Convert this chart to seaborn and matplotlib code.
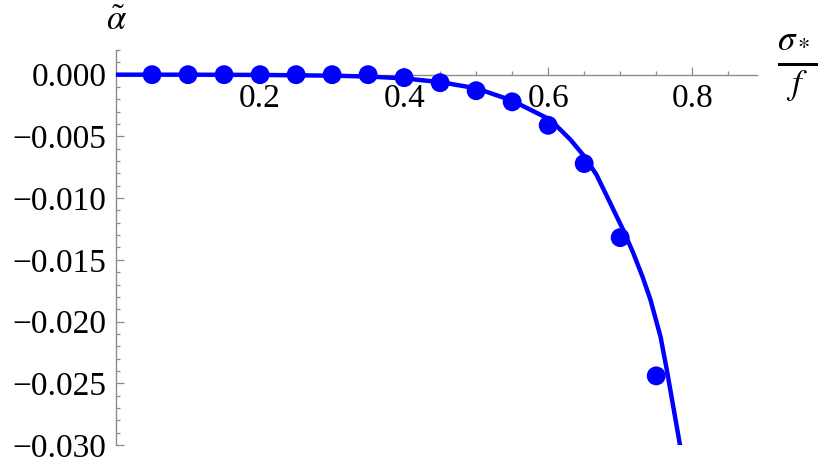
import matplotlib
matplotlib.use("Agg")
import matplotlib.pyplot as plt
import seaborn as sns
from matplotlib.ticker import MultipleLocator, FixedLocator

# Data
dots_x = [0.05, 0.10, 0.15, 0.20, 0.25, 0.30, 0.35, 0.40, 0.45, 0.50, 0.55, 0.60, 0.65, 0.70, 0.75]
dots_y = [0.0, 0.0, 0.0, 0.0, 0.0, 0.0, 0.0, -0.00024, -0.00065, -0.0013, -0.0022,
          -0.0041, -0.0072, -0.0132, -0.0244]

curve_x = [0.0, 0.1, 0.2, 0.3, 0.35, 0.4, 0.45, 0.5, 0.55, 0.603, 0.631, 0.65, 0.667, 0.682,
           0.704, 0.718, 0.731, 0.742, 0.756, 0.765, 0.774, 0.783, 0.786]
curve_y = [0.0, 0.0, -0.00002, -0.00008, -0.00015, -0.0003, -0.0006, -0.0011, -0.0021,
           -0.00365, -0.00527, -0.0066, -0.0081, -0.0099, -0.01256, -0.01443, -0.01637,
           -0.01823, -0.02123, -0.0240, -0.0270, -0.0300, -0.0311]

y_ticks = [0.0, -0.005, -0.010, -0.015, -0.020, -0.025, -0.030]
y_labels = ["0.000", "\u22120.005", "\u22120.010", "\u22120.015", "\u22120.020", "\u22120.025", "\u22120.030"]
x_ticks = [0.2, 0.4, 0.6, 0.8]
x_labels = ["0.2", "0.4", "0.6", "0.8"]

sns.set_style("white")
plt.rcParams["font.family"] = ["Liberation Serif", "DejaVu Serif"]
plt.rcParams["mathtext.fontset"] = "stix"

blue = "#0000ff"
axis_grey = "#8c8c8c"

fig = plt.figure(figsize=(8.3, 4.69), dpi=100)
ax = fig.add_axes([0.1398, 0.0512, 0.7723, 0.8422])

sns.lineplot(x=curve_x, y=curve_y, ax=ax, color=blue, linewidth=3.2, sort=False)
sns.scatterplot(x=dots_x, y=dots_y, ax=ax, color=blue, s=185, edgecolor="none",
                zorder=3, clip_on=False)

ax.set_xlim(0, 0.89)
ax.set_ylim(-0.030, 0.002)

# Mathematica-style axes crossing at the origin
for side in ["top", "right"]:
    ax.spines[side].set_visible(False)
ax.spines["bottom"].set_position(("data", 0))
ax.spines["left"].set_position(("data", 0))
for side in ["bottom", "left"]:
    ax.spines[side].set_color(axis_grey)
    ax.spines[side].set_linewidth(1.0)
    ax.spines[side].set_zorder(0.5)

ax.xaxis.set_major_locator(FixedLocator(x_ticks))
ax.set_xticklabels(x_labels)
ax.xaxis.set_minor_locator(MultipleLocator(0.05))
ax.yaxis.set_major_locator(FixedLocator(y_ticks))
ax.set_yticklabels(y_labels)
ax.yaxis.set_minor_locator(MultipleLocator(0.001))

ax.tick_params(which="both", direction="in", color=axis_grey, width=0.9,
               bottom=True, left=True, top=False, right=False, labelcolor="black")
ax.tick_params(which="major", length=6, labelsize=24, pad=6)
ax.tick_params(which="minor", length=3.2)
ax.tick_params(axis="y", which="major", pad=7)

ax.set_xlabel("")
ax.set_ylabel("")

fig.text(0.14, 0.955, r"$\tilde{\alpha}$", fontsize=25, ha="center", va="center",
         color="black")
fig.text(0.96, 0.853, r"$\frac{\sigma_*}{f}$", fontsize=36, ha="center", va="center",
         color="black")

fig.savefig("out.png", dpi=100)
